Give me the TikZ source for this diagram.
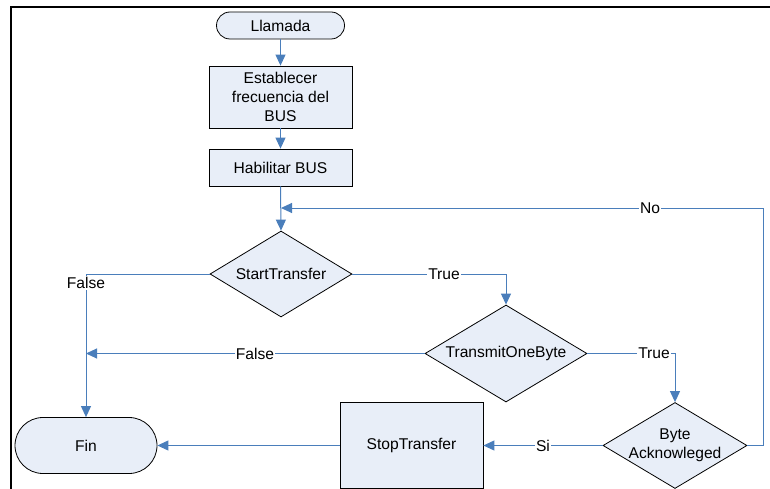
\documentclass[tikz,border=0pt]{standalone}
\usepackage{fontspec}
\setmainfont{Liberation Sans}
\usetikzlibrary{shapes.geometric,arrows.meta}
\definecolor{fillc}{HTML}{E8EEF8}
\definecolor{linec}{HTML}{4A7EBB}
\begin{document}
\begin{tikzpicture}[x=1pt,y=-1pt,
  font=\fontsize{15.6}{18.8}\selectfont,
  term/.style={draw=black, line width=0.8pt, fill=fillc, inner sep=0pt},
  box/.style={draw=black, line width=0.8pt, fill=fillc, inner sep=0pt, align=center, minimum width=143pt},
  dec/.style={diamond, draw=black, line width=0.8pt, fill=fillc, inner sep=0pt},
  conn/.style={draw=linec, line width=1pt, -{Triangle[width=10pt,length=11pt]}},
  lab/.style={fill=white, inner sep=1pt}]
\useasboundingbox (0,0) rectangle (770,489);
\draw[line width=2.5pt] (11,489) -- (11,7) -- (770,7);

\node[term, minimum width=128pt, minimum height=27pt, rounded corners=13.5pt] (llamada) at (280.5,25.5) {Llamada};
\node[box, minimum height=62pt] (estab) at (280.5,97) {Establecer\\frecuencia del\\BUS};
\node[box, minimum height=37pt] (habil) at (280.5,167.5) {Habilitar BUS};
\node[dec, minimum width=142pt, minimum height=86pt, label=center:StartTransfer] (start) at (281,274) {};
\node[dec, minimum width=162pt, minimum height=97pt, label=center:TransmitOneByte] (tob) at (506,353.5) {};
\node[dec, minimum width=144pt, minimum height=86pt, label={[align=center]center:Byte\\Acknowleged}] (byte) at (675,445.5) {};
\node[term, minimum width=142pt, minimum height=56pt, rounded corners=28pt] (fin) at (86,445.5) {Fin};
\node[box, minimum height=86pt] (stop) at (411.5,445.5) {StopTransfer};

\coordinate (f2) at (86,353.5);
\coordinate (nr) at (763,208);
\coordinate (nend) at (281,208);

\draw[conn] (llamada.south) -- (estab.north);
\draw[conn] (estab.south) -- (habil.north);
\draw[conn] (habil.south) -- (start.north);
\draw[conn] (start.west) -| (fin.north);
\draw[conn] (tob.west) -- (f2);
\draw[conn] (start.east) -| (tob.north);
\draw[conn] (tob.east) -| (byte.north);
\draw[conn] (byte.west) -- (stop.east);
\draw[conn] (stop.west) -- (fin.east);
\draw[conn] (byte.east) -| (nr) -- (nend);

\node[lab] (lf1) at (86,283) {False};
\node[lab] (lf2) at (255,353.5) {False};
\node[lab] (lt1) at (444,274) {True};
\node[lab] (lt2) at (654,353.5) {True};
\node[lab] (lsi) at (543,445.5) {Si};
\node[lab] (lno) at (650,208) {No};
\end{tikzpicture}
\end{document}
